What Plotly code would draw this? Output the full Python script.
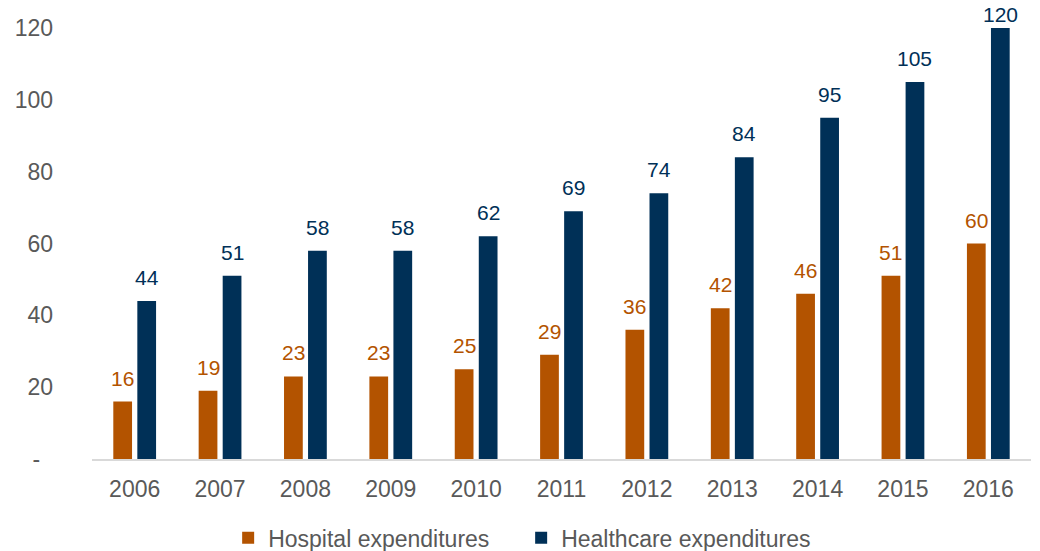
import plotly.graph_objects as go

# Annual expenditures, 2006-2016
years = ["2006", "2007", "2008", "2009", "2010", "2011",
         "2012", "2013", "2014", "2015", "2016"]
hospital = [16, 19, 23, 23, 25, 29, 36, 42, 46, 51, 60]
healthcare = [44, 51, 58, 58, 62, 69, 74, 84, 95, 105, 120]

y_ticks = [0, 20, 40, 60, 80, 100, 120]
y_tick_text = ["-\u00a0\u00a0", "20", "40", "60", "80", "100", "120"]
Y_MAX = 120

ORANGE = "#B35300"
NAVY = "#003057"
GREY = "#595959"
FONT = "Arial, Liberation Sans, sans-serif"

fig = go.Figure()
fig.add_trace(go.Bar(
    x=years, y=hospital, name="Hospital expenditures",
    marker=dict(color=ORANGE, line=dict(width=0)),
))
fig.add_trace(go.Bar(
    x=years, y=healthcare, name="Healthcare expenditures",
    marker=dict(color=NAVY, line=dict(width=0)),
))

# value labels above each bar; x is the category index, shifted onto its bar.
# A bar reaching the top of the axis gets a tighter label so it stays in frame.
annotations = []
for series, color, dx in ((hospital, ORANGE, -12), (healthcare, NAVY, 12)):
    for i, v in enumerate(series):
        annotations.append(dict(
            x=i, y=v, xref="x", yref="y", text=str(v),
            showarrow=False, xanchor="center", yanchor="bottom",
            xshift=dx, yshift=10 if v < Y_MAX else 0,
            font=dict(size=21, color=color, family=FONT),
        ))

fig.update_layout(
    width=1040, height=551,
    margin=dict(l=92, r=9, t=28, b=92),
    paper_bgcolor="white", plot_bgcolor="white",
    barmode="group", bargap=0.437, bargroupgap=0.22,
    font=dict(family=FONT, size=23, color=GREY),
    showlegend=True,
    legend=dict(
        orientation="h", x=0.145, xanchor="left",
        yref="container", y=0.024, yanchor="middle",
        font=dict(size=23, color=GREY, family=FONT),
        itemwidth=30, traceorder="normal",
        entrywidth=248, entrywidthmode="pixels",
    ),
    annotations=annotations,
)
fig.update_xaxes(
    type="category", range=[-0.5, len(years) - 0.5],
    showline=True, linecolor="#D9D9D9", linewidth=2,
    showgrid=False, ticks="", zeroline=False,
    tickfont=dict(size=23, color=GREY, family=FONT),
    ticklabelstandoff=8,
)
fig.update_yaxes(
    range=[0, Y_MAX], tickvals=y_ticks, ticktext=y_tick_text,
    showgrid=False, zeroline=False, showline=False, ticks="",
    tickfont=dict(size=23, color=GREY, family=FONT),
    ticklabelstandoff=38,
)

fig.write_html("out.html")
